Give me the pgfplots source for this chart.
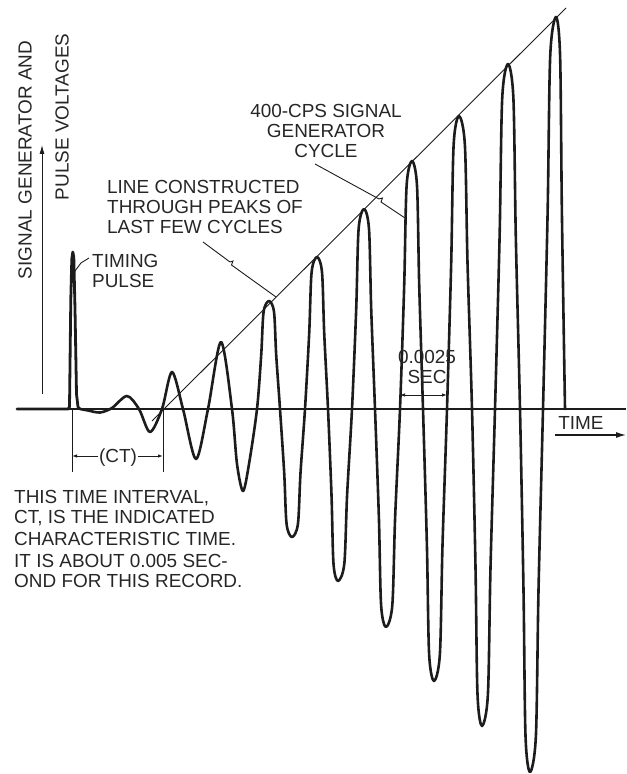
\documentclass[border=0pt]{standalone}
\usepackage{fontspec}
\setmainfont{Liberation Sans}
\usepackage{pgfplots}
\pgfplotsset{compat=1.18}
\usetikzlibrary{arrows.meta}
\definecolor{ink}{HTML}{1C1C1C}
\definecolor{txt}{HTML}{262626}
\tikzset{
  lbl/.style={font=\fontsize{19}{21}\selectfont, text=txt, inner sep=0pt},
  thin line/.style={draw=ink, line width=0.9bp},
  sig/.style={draw=ink, line width=2.6bp, line join=round, line cap=round, no markers},
}
\begin{document}
\begin{tikzpicture}
\begin{axis}[width=626bp, height=774bp, scale only axis,
  xmin=0, xmax=626, ymin=-365, ymax=409,
  hide axis, clip=false]
% invisible frame fixing the picture size
\path (axis cs:0,-365) rectangle (axis cs:626,409);

% baseline (time axis)
\addplot[thin line, line width=1.1bp, no markers] coordinates {(17,0) (626,0)};

% straight line through the peaks of the last cycles
\addplot[thin line, no markers] coordinates {(152,-12) (566,401)};

% timing pulse
\addplot[sig, line width=2.8bp, sharp plot] coordinates {
 (17,0) (68,0) (69.5,2) (70.8,110) (71.8,150) (72.8,157) (73.8,152) (75,100) (76.5,15) (78,2) (80,0)};

% 400-cps signal generator record
\addplot[sig, smooth] coordinates {
 (80,0) (88,-1.5) (100,-3.5) (112,1) (127,13) (139,0) (150,-23) (162,0)
 (172,37) (183,0)
 (196,-50) (208,0)
 (221,67) (232,0)
 (237,-55) (243,-82) (249,-55) (257,0)
 (261.2,54) (263.6,97.2) (269,108) (274.0,97.2) (276.2,54) (280,0)
 (284.2,-64) (286.6,-115.2) (292,-128) (297.9,-115.2) (300.5,-64) (305,0)
 (309.2,76) (311.6,136.8) (317,152) (322.0,136.8) (324.2,76) (328,0)
 (331.5,-86) (333.5,-154.8) (338,-172) (344.3,-154.8) (347.1,-86) (352,0)
 (356.2,100) (358.6,180) (364,200) (369.0,180) (371.2,100) (375,0)
 (378.9,-109) (381.1,-196.2) (386,-218) (392.3,-196.2) (395.1,-109) (400,0)
 (404.2,124) (406.6,223.2) (412,248) (417.0,223.2) (419.2,124) (423,0)
 (426.9,-136) (429.1,-244.8) (434,-272) (439.9,-244.8) (442.5,-136) (447,0)
 (451.2,146.5) (453.6,263.7) (459,293) (464.9,263.7) (467.5,146.5) (472,0)
 (475.5,-158.5) (477.5,-285.3) (482,-317) (487.9,-285.3) (490.5,-158.5) (495,0)
 (499.6,172.5) (502.2,310.5) (508,345) (513.4,310.5) (515.8,172.5) (520,0)
 (523.5,-181.5) (525.5,-326.7) (530,-363) (535.9,-326.7) (538.5,-181.5) (543,0)
 (547.6,196) (550.2,352.8) (556,392) (560.1,352.8) (561.9,196) (565,0)};

% vertical (voltage) arrow
\draw[thin line, -{Latex[length=9bp,width=5bp]}] (axis cs:42,15) -- (axis cs:42,264);
\node[lbl, rotate=90] at (axis cs:25,249) {SIGNAL GENERATOR AND};
\node[lbl, rotate=90] at (axis cs:62,292) {PULSE VOLTAGES};

% time arrow
\node[lbl, anchor=base] at (axis cs:581,-21) {TIME};
\draw[thin line, line width=1.2bp, -{Latex[length=10bp,width=6bp]}] (axis cs:555,-26) -- (axis cs:626,-26);

% timing pulse label
\draw[thin line] (axis cs:75,138) -- (axis cs:81,146) -- (axis cs:89,151);
\node[lbl, anchor=base west] at (axis cs:92,141) {TIMING};
\node[lbl, anchor=base west] at (axis cs:92,121) {PULSE};

% line constructed label
\node[lbl, anchor=base west] at (axis cs:107,215) {LINE CONSTRUCTED};
\node[lbl, anchor=base west] at (axis cs:107,195) {THROUGH PEAKS OF};
\node[lbl, anchor=base west] at (axis cs:107,175) {LAST FEW CYCLES};
\draw[thin line] (axis cs:203,167) -- (axis cs:230,147) -- (axis cs:233,148) -- (axis cs:231.5,144) -- (axis cs:276,112);

% 400-cps label
\node[lbl, anchor=base] at (axis cs:326,291) {400-CPS SIGNAL};
\node[lbl, anchor=base] at (axis cs:326,271) {GENERATOR};
\node[lbl, anchor=base] at (axis cs:326,251) {CYCLE};
\draw[thin line] (axis cs:315,245) -- (axis cs:379,210) -- (axis cs:382.5,211) -- (axis cs:381,207) -- (axis cs:405,191);

% 0.0025 sec dimension
\node[lbl, anchor=base] at (axis cs:427,45) {0.0025};
\node[lbl, anchor=base] at (axis cs:427,25) {SEC};
\draw[thin line] (axis cs:400,0) -- (axis cs:400,22);
\draw[thin line] (axis cs:447,0) -- (axis cs:447,22);
\draw[thin line, {Latex[length=5bp,width=3.5bp]}-{Latex[length=5bp,width=3.5bp]}] (axis cs:400,14) -- (axis cs:447,14);

% CT dimension
\draw[thin line] (axis cs:72,0) -- (axis cs:72,-63);
\draw[thin line] (axis cs:163,0) -- (axis cs:163,-63);
\node[lbl, anchor=base] at (axis cs:118,-54) {(CT)};
\draw[thin line, -{Latex[length=5bp,width=3.5bp]}] (axis cs:98,-47) -- (axis cs:72,-47);
\draw[thin line, -{Latex[length=5bp,width=3.5bp]}] (axis cs:138,-47) -- (axis cs:163,-47);

% explanatory note
\node[lbl, anchor=base west] at (axis cs:14,-95) {THIS TIME INTERVAL,};
\node[lbl, anchor=base west] at (axis cs:14,-115) {CT, IS THE INDICATED};
\node[lbl, anchor=base west] at (axis cs:14,-137) {CHARACTERISTIC TIME.};
\node[lbl, anchor=base west] at (axis cs:14,-159) {IT IS ABOUT 0.005 SEC-};
\node[lbl, anchor=base west] at (axis cs:14,-179) {OND FOR THIS RECORD.};
\end{axis}
\end{tikzpicture}
\end{document}
